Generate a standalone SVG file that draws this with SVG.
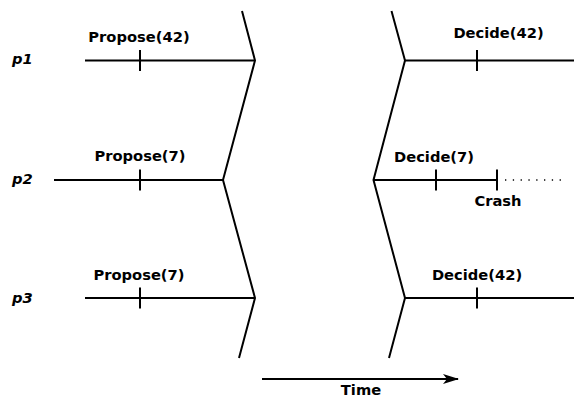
<svg xmlns="http://www.w3.org/2000/svg" width="574" height="397" viewBox="0 0 574 397">
  <style>
    .line { stroke: #000; stroke-width: 2; fill: none; }
    .tick { stroke: #000; stroke-width: 2; }
    .lbl { font-family: "DejaVu Sans", sans-serif; font-weight: bold; font-size: 14.7px; fill: #000; text-anchor: middle; }
    .proc { font-family: "DejaVu Sans", sans-serif; font-weight: bold; font-style: italic; font-size: 14.7px; fill: #000; }
    .dots { stroke: #000; stroke-width: 1.3; stroke-dasharray: 1.3 6.5; }
  </style>
  <defs>
    <marker id="arrow" markerWidth="16" markerHeight="10" refX="15" refY="5" orient="auto" markerUnits="userSpaceOnUse">
      <path d="M0,0 L16,5 L0,10 L4,5 Z" fill="#000"/>
    </marker>
  </defs>
  <rect width="574" height="397" fill="#fff"/>

  <!-- process labels -->
  <g id="proc-p1"><text class="proc" x="12" y="64">p1</text></g>
  <g id="proc-p2"><text class="proc" x="12" y="184">p2</text></g>
  <g id="proc-p3"><text class="proc" x="12" y="303">p3</text></g>

  <g id="connectors">
    <!-- timelines, first round -->
    <line class="line" x1="85" y1="60.5" x2="255" y2="60.5"/>
    <line class="line" x1="54" y1="180" x2="223" y2="180"/>
    <line class="line" x1="85" y1="298" x2="255" y2="298"/>
    <!-- round boundary, left -->
    <polyline class="line" points="242,11 255,60.5 223,180 255,298 239,358"/>
    <!-- round boundary, right -->
    <polyline class="line" points="391.5,11 405,60.5 373.5,180 405,298 389,358"/>
    <!-- timelines, second round -->
    <line class="line" x1="405" y1="60.5" x2="574" y2="60.5"/>
    <line class="line" x1="373.5" y1="180" x2="497" y2="180"/>
    <line class="line" x1="405" y1="298" x2="574" y2="298"/>
    <!-- after crash -->
    <line class="dots" x1="505" y1="180" x2="562" y2="180"/>
    <!-- time axis -->
    <line class="line" x1="262" y1="379" x2="458" y2="379" marker-end="url(#arrow)"/>
  </g>

  <!-- events -->
  <g id="propose-p1">
    <line class="tick" x1="140" y1="50" x2="140" y2="71"/>
    <text class="lbl" x="139" y="41.5">Propose(42)</text>
  </g>
  <g id="propose-p2">
    <line class="tick" x1="140" y1="169.5" x2="140" y2="190.5"/>
    <text class="lbl" x="140" y="161">Propose(7)</text>
  </g>
  <g id="propose-p3">
    <line class="tick" x1="140" y1="287.5" x2="140" y2="308.5"/>
    <text class="lbl" x="139" y="279.5">Propose(7)</text>
  </g>
  <g id="decide-p1">
    <line class="tick" x1="477" y1="50" x2="477" y2="71"/>
    <text class="lbl" x="498.5" y="37.5">Decide(42)</text>
  </g>
  <g id="decide-p2">
    <line class="tick" x1="436" y1="169.5" x2="436" y2="190.5"/>
    <text class="lbl" x="434" y="161.5">Decide(7)</text>
  </g>
  <g id="crash-p2">
    <line class="tick" x1="497" y1="169.5" x2="497" y2="190.5"/>
    <text class="lbl" x="498" y="205.5">Crash</text>
  </g>
  <g id="decide-p3">
    <line class="tick" x1="477" y1="287.5" x2="477" y2="308.5"/>
    <text class="lbl" x="477" y="280">Decide(42)</text>
  </g>
  <g id="time-label">
    <text class="lbl" x="361" y="394.5">Time</text>
  </g>
</svg>
